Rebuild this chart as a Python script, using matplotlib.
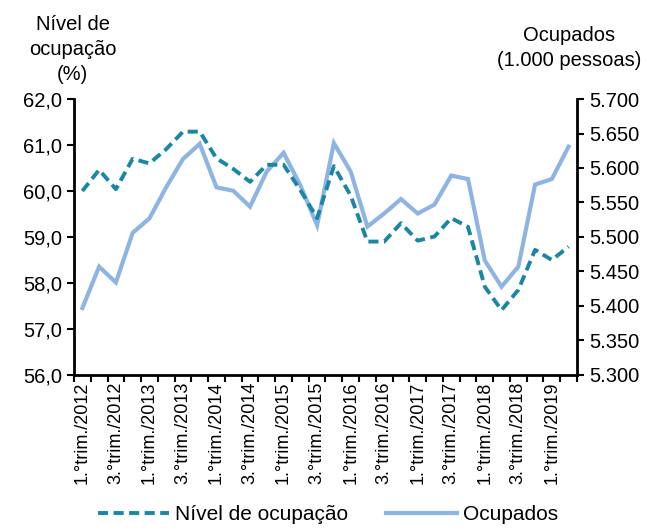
import matplotlib.pyplot as plt
from matplotlib.ticker import FuncFormatter, FixedLocator

plt.rcParams['font.family'] = ['Liberation Sans', 'DejaVu Sans']

# quarters 1.°trim./2012 .. 2.°trim./2019
quarters = []
for year in range(2012, 2020):
    for q in range(1, 5):
        quarters.append("{}.°trim./{}".format(q, year))
quarters = quarters[:30]

nivel = [60.00, 60.46, 60.04, 60.70, 60.60, 60.91, 61.29, 61.29, 60.71, 60.48,
         60.20, 60.57, 60.57, 60.02, 59.41, 60.54, 59.90, 58.90, 58.90, 59.30,
         58.92, 59.01, 59.41, 59.22, 57.92, 57.41, 57.85, 58.72, 58.50, 58.79]

ocupados = [5397, 5457, 5434, 5506, 5527, 5572, 5613, 5635, 5572, 5567,
            5544, 5595, 5622, 5575, 5517, 5636, 5595, 5515, 5534, 5555,
            5534, 5547, 5589, 5584, 5466, 5428, 5457, 5576, 5584, 5631]

dark_blue = "#1A86A6"
light_blue = "#8EB4E3"

fig = plt.figure(figsize=(6.5, 5.3), dpi=100)
ax = fig.add_axes([0.1138, 0.2925, 0.7739, 0.5207])
ax2 = ax.twinx()

x = list(range(len(quarters)))
l1, = ax.plot(x, nivel, color=dark_blue, lw=2.8, dashes=(2.6, 1.4),
              label="Nível de ocupação", zorder=3)
l2, = ax2.plot(x, ocupados, color=light_blue, lw=3.0, label="Ocupados",
               solid_joinstyle="miter", zorder=2)
ax.set_zorder(ax2.get_zorder() + 1)
ax.patch.set_visible(False)

ax.set_xlim(-0.5, len(quarters) - 0.5)
ax.set_ylim(56, 62)
ax2.set_ylim(5300, 5700)
ax.set_yticks([56, 57, 58, 59, 60, 61, 62])
ax2.set_yticks(range(5300, 5701, 50))
ax.yaxis.set_major_formatter(FuncFormatter(lambda v, p: "{:.1f}".format(v).replace(".", ",")))
ax2.yaxis.set_major_formatter(FuncFormatter(lambda v, p: "{:,.0f}".format(v).replace(",", ".")))

ax.set_xticks(x[::2])
ax.set_xticklabels(quarters[::2], rotation=90)
ax.xaxis.set_minor_locator(FixedLocator([i - 0.5 for i in range(len(quarters) + 1)]))
ax.tick_params(axis="x", which="major", length=0, pad=5, labelsize=13)
ax.tick_params(axis="x", which="minor", length=5, width=1.5)

for a in (ax, ax2):
    a.spines["top"].set_visible(False)
    for s in ("left", "right", "bottom"):
        a.spines[s].set_linewidth(2)
    a.tick_params(axis="y", labelsize=14.5, width=1.5, length=5)
ax.spines["right"].set_visible(False)
ax2.spines["left"].set_visible(False)
ax2.spines["bottom"].set_visible(False)

fig.text(0.112, 0.906, "Nível de\nocupação\n(%)", ha="center", va="center",
         fontsize=14.5, linespacing=1.4)
fig.text(0.875, 0.909, "Ocupados\n(1.000 pessoas)", ha="center", va="center",
         fontsize=14.5, linespacing=1.4)

fig.legend([l1, l2], ["Nível de ocupação", "Ocupados"], loc="lower center",
           bbox_to_anchor=(0.505, -0.025), ncol=2, frameon=False, fontsize=15,
           handlelength=3.4, columnspacing=1.8, handletextpad=0.3)

fig.savefig("out.png", dpi=100)
